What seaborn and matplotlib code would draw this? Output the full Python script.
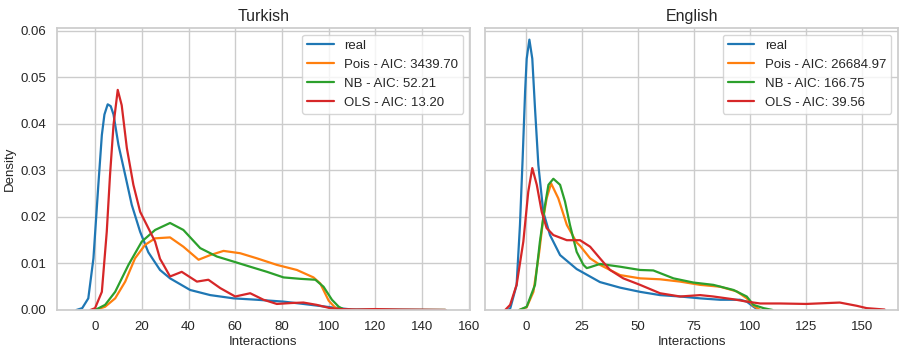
import matplotlib
matplotlib.use("Agg")
import matplotlib.pyplot as plt
import seaborn as sns
import pandas as pd

# ---------------- Turkish ----------------
tr_real_x = [-8, -5.5, -2.9, -0.7, 1.4, 2.9, 4.0, 5.4, 6.7, 7.9, 10.0, 12.9, 15.7, 19.3, 22.8, 27.8, 32.1, 40.7, 49.3, 59.3, 69.3, 80.7, 89.2, 100.6, 110, 150]
tr_real_y = [0, 0.0004, 0.0025, 0.0111, 0.0269, 0.0376, 0.042, 0.0442, 0.0438, 0.042, 0.0355, 0.029, 0.0226, 0.0168, 0.0124, 0.0086, 0.0068, 0.0043, 0.0032, 0.0025, 0.0022, 0.0018, 0.0013, 0.0006, 0.0001, 0]

tr_pois_x = [0, 4.3, 8.6, 12.9, 17.1, 21.4, 25.7, 32.1, 37.8, 44.3, 49.3, 55.0, 62.1, 69.3, 77.8, 86.4, 93.5, 96.4, 100, 103, 106, 150]
tr_pois_y = [0, 0.0007, 0.0025, 0.0061, 0.0111, 0.014, 0.0154, 0.0156, 0.0136, 0.0108, 0.0118, 0.0127, 0.0122, 0.0111, 0.0097, 0.0086, 0.007, 0.0057, 0.002, 0.0004, 0, 0]

tr_nb_x = [0, 4.3, 8.6, 14.3, 20.0, 25.7, 32.1, 37.8, 45.0, 52.1, 59.3, 66.4, 73.6, 80.7, 87.8, 94.3, 97.8, 101.4, 104.3, 107, 150]
tr_nb_y = [0, 0.0011, 0.0039, 0.0097, 0.0147, 0.0172, 0.0187, 0.0172, 0.0133, 0.0115, 0.0104, 0.0093, 0.0082, 0.007, 0.0067, 0.0065, 0.005, 0.0022, 0.0007, 0, 0]

tr_ols_x = [-2, 0, 2.9, 5.0, 6.4, 7.9, 9.7, 11.4, 13.6, 16.4, 19.3, 22.1, 25.7, 27.8, 29.3, 32.1, 37.1, 43.6, 48.5, 53.6, 60.0, 66.4, 72.1, 77.8, 84.0, 89.2, 94.9, 100.6, 105, 112, 120, 130, 150]
tr_ols_y = [0, 0.0004, 0.0039, 0.0168, 0.029, 0.0398, 0.0473, 0.044, 0.0348, 0.0269, 0.0211, 0.0183, 0.0147, 0.011, 0.0097, 0.0072, 0.0082, 0.0061, 0.0065, 0.0047, 0.0029, 0.0036, 0.0022, 0.0013, 0.0015, 0.0016, 0.0011, 0.0004, 0.0002, 0.0001, 0.0002, 0.0001, 0]

# ---------------- English ----------------
en_real_x = [-8, -7.0, -4.2, -2.7, -1.5, -0.4, 0.3, 1.5, 2.8, 4.0, 5.5, 7.7, 10.7, 15.2, 22.6, 24.1, 33.0, 42.0, 50.9, 59.8, 68.8, 77.7, 86.6, 95.5, 98.5, 101.5, 103.7]
en_real_y = [0, 0.0004, 0.0054, 0.0183, 0.0326, 0.047, 0.054, 0.0581, 0.054, 0.0434, 0.0312, 0.0211, 0.0161, 0.0118, 0.0088, 0.0084, 0.006, 0.0048, 0.0039, 0.0032, 0.0029, 0.0025, 0.0022, 0.0022, 0.0018, 0.0007, 0]

en_pois_x = [-3, 0.3, 3.3, 5.9, 7.7, 9.2, 11.2, 14.4, 18.2, 22.6, 24.1, 28.6, 33.0, 42.0, 50.9, 59.8, 68.8, 77.7, 86.6, 94.0, 98.5, 101.5, 104.5]
en_pois_y = [0, 0.0006, 0.0039, 0.0125, 0.0197, 0.024, 0.0272, 0.024, 0.0183, 0.0145, 0.0138, 0.0111, 0.0097, 0.0075, 0.0068, 0.0066, 0.0061, 0.0054, 0.005, 0.004, 0.0025, 0.0009, 0]

en_nb_x = [-3, 0.3, 4.0, 6.2, 8.5, 10.0, 12.2, 15.2, 17.4, 19.6, 22.6, 25.6, 27.1, 28.6, 33.0, 42.0, 50.9, 56.8, 65.8, 74.7, 83.6, 92.6, 98.5, 101.5, 106, 110]
en_nb_y = [0, 0.0007, 0.0054, 0.0147, 0.0226, 0.0269, 0.0282, 0.0269, 0.0233, 0.0183, 0.0125, 0.0097, 0.009, 0.0092, 0.0099, 0.0093, 0.0086, 0.0085, 0.0068, 0.0059, 0.0054, 0.0043, 0.0029, 0.0011, 0.0004, 0]

en_ols_x = [-9.3, -7.1, -4.2, -1.2, 1.0, 2.8, 4.8, 7.0, 9.2, 12.2, 18.2, 24.1, 28.6, 33.0, 37.5, 43.4, 50.9, 59.8, 68.8, 77.7, 83.6, 92.6, 98.5, 104.5, 113.4, 125, 140, 147.6, 152, 160]
en_ols_y = [0, 0.0011, 0.0054, 0.0147, 0.0254, 0.0305, 0.0269, 0.0211, 0.0176, 0.0161, 0.015, 0.015, 0.0136, 0.0111, 0.0086, 0.0068, 0.0054, 0.0036, 0.0029, 0.0032, 0.0029, 0.0023, 0.0018, 0.0014, 0.0014, 0.0013, 0.0016, 0.0009, 0.0004, 0.0001]

tr_labels = ["real", "Pois - AIC: 3439.70", "NB - AIC: 52.21", "OLS - AIC: 13.20"]
en_labels = ["real", "Pois - AIC: 26684.97", "NB - AIC: 166.75", "OLS - AIC: 39.56"]

sns.set_theme(style="whitegrid")
plt.rcParams["font.family"] = ["Liberation Sans", "DejaVu Sans"]

colors = sns.color_palette("tab10")[:4]

fig = plt.figure(figsize=(8.99, 3.5), dpi=100)
ax1 = fig.add_axes([0.0634, 0.1143, 0.4594, 0.8057])
ax2 = fig.add_axes([0.5395, 0.1143, 0.4594, 0.8057], sharey=ax1)

tr = [(tr_real_x, tr_real_y), (tr_pois_x, tr_pois_y), (tr_nb_x, tr_nb_y), (tr_ols_x, tr_ols_y)]
en = [(en_real_x, en_real_y), (en_pois_x, en_pois_y), (en_nb_x, en_nb_y), (en_ols_x, en_ols_y)]

for ax, series, labels, title, xlim in [
    (ax1, tr, tr_labels, "Turkish", (-16.3, 160.5)),
    (ax2, en, en_labels, "English", (-18.3, 166)),
]:
    for (xs, ys), lab, c in zip(series, labels, colors):
        df = pd.DataFrame({"x": xs, "y": ys})
        sns.lineplot(data=df, x="x", y="y", ax=ax, color=c, label=lab, linewidth=1.6)
    ax.set_xlim(*xlim)
    ax.set_ylim(0, 0.0606)
    ax.set_title(title, fontsize=11.5, pad=5)
    ax.set_xlabel("Interactions", fontsize=9.5, labelpad=2)
    ax.tick_params(labelsize=9.5, pad=2)
    ax.legend(loc="upper right", fontsize=9.5, frameon=True)

ax1.set_ylabel("Density", fontsize=9.5, labelpad=3)
ax2.set_ylabel("")
ax1.set_xticks([0, 20, 40, 60, 80, 100, 120, 140, 160])
ax2.set_xticks([0, 25, 50, 75, 100, 125, 150])
ax1.set_yticks([0, 0.01, 0.02, 0.03, 0.04, 0.05, 0.06])
ax1.set_yticklabels(["0.00", "0.01", "0.02", "0.03", "0.04", "0.05", "0.06"])
plt.setp(ax2.get_yticklabels(), visible=False)

fig.savefig("out.png", dpi=100)
